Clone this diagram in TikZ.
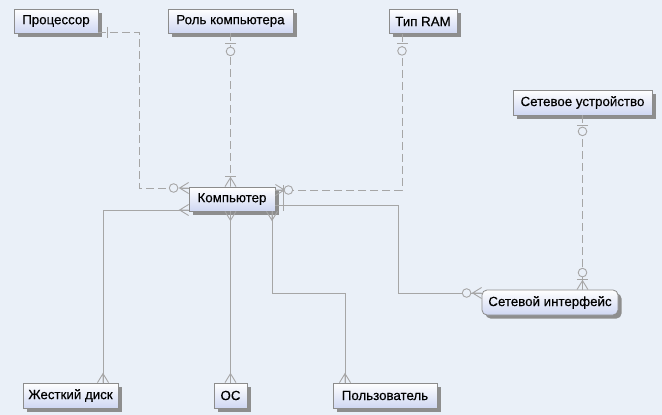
\documentclass[tikz,border=0pt]{standalone}
\usepackage{fontspec}
\setmainfont{Liberation Sans}[FakeBold=0.3]
\newfontfamily\entfont{Liberation Sans}[FakeBold=0.35]
\usetikzlibrary{shadows}
\definecolor{bg}{HTML}{EAF0F8}
\definecolor{boxbot}{HTML}{CFD7F2}
\definecolor{edge}{HTML}{8C8C8C}
\definecolor{ln}{HTML}{A6A6A6}
\definecolor{shd}{HTML}{8E8E8E}
\begin{document}
\begin{tikzpicture}[x=1pt,y=-1pt,
  ent/.style={draw=edge, line width=0.8pt, top color=white, bottom color=boxbot,
    inner sep=0pt, minimum height=24pt, font=\entfont\fontsize{13.3}{15}\selectfont, text=black,
    general shadow={fill=shd, shadow xshift=3.5pt, shadow yshift=-3.5pt}},
  rel/.style={draw=ln, line width=0.9pt},
  idrel/.style={rel, dash pattern=on 8pt off 4pt},
  mk/.style={draw=ln, line width=0.9pt},
  pics/crow/.style={code={\draw[mk] (0,-5.5) -- (9,0) -- (0,5.5) (0,0) -- (9,0);}},
  pics/bar/.style={code={\draw[mk] (#1,-5.5) -- (#1,5.5);}},
  pics/ring/.style={code={\draw[mk,fill=bg] (#1,0) circle[radius=4.3pt];}}
]
\useasboundingbox (0,0) rectangle (662,415);
\fill[bg] (0,0) rectangle (662,415);

% entities
\node[ent, minimum width=84pt]  (proc)   at (56,21)    {Процессор};
\node[ent, minimum width=125pt] (role)   at (230.5,21) {Роль компьютера};
\node[ent, minimum width=68pt]  (ram)    at (423,21.5) {Тип RAM};
\node[ent, minimum width=139pt, minimum height=25pt] (netdev) at (582.5,102.5) {Сетевое устройство};
\node[ent, minimum width=86pt]  (comp)   at (232,199)  {Компьютер};
\node[ent, minimum width=136pt, minimum height=25pt, rounded corners=5pt] (netif) at (550,302.5) {Сетевой интерфейс};
\node[ent, minimum width=95pt, minimum height=25pt]  (hdd)  at (70.5,395.5) {Жесткий диск};
\node[ent, minimum width=33pt, minimum height=25pt]  (os)   at (230.5,395.5) {ОС};
\node[ent, minimum width=104pt, minimum height=25pt] (user) at (385,395.5) {Пользователь};

% connection points
\coordinate (p1) at ([yshift=-11pt]proc.east);
\coordinate (c1) at ([yshift=11pt]comp.west);
\coordinate (r1) at (role.south);
\coordinate (c2) at (role.south |- comp.north);
\coordinate (m1) at ([xshift=-21pt]ram.south);
\coordinate (c3) at ([yshift=9pt]comp.east);
\coordinate (c4) at ([yshift=-11pt]comp.west);
\coordinate (h1) at ([xshift=32.5pt]hdd.north);
\coordinate (c5) at (comp.south -| os.north);
\coordinate (c6) at ([xshift=40pt]comp.south);
\coordinate (u1) at ([xshift=-40pt]user.north);
\coordinate (c7) at ([yshift=-6pt]comp.east);
\coordinate (n1) at ([yshift=9.5pt]netif.west);
\coordinate (d1) at (netdev.south);
\coordinate (n2) at (netdev.south |- netif.north);

% connectors
\draw[idrel] (p1) -- ++(41,0) |- (c1);
\draw[idrel] (r1) -- (c2);
\draw[idrel] (m1) |- (c3);
\draw[rel] (c4) -| (h1);
\draw[rel] (c5) -- (os.north);
\draw[rel] (c6) -- ++(0,82) -| (u1);
\draw[rel] (c7) -- ++(123,0) |- (n1);
\draw[idrel] (d1) -- (n2);

% markers
\pic at (p1) {bar=9};
\pic[rotate=180] at (c1) {crow};
\pic[rotate=180] at (c1) {ring=15};

\pic[rotate=-90] at (r1) {bar=10};
\pic[rotate=-90] at (r1) {ring=18};
\pic[rotate=90] at (c2) {crow};
\pic[rotate=90] at (c2) {bar=10};

\pic[rotate=-90] at (m1) {bar=10};
\pic[rotate=-90] at (m1) {ring=17};
\pic at (c3) {crow};
\pic at (c3) {ring=13};

\pic[rotate=180] at (c4) {crow};
\pic[rotate=90] at (h1) {crow};

\pic[rotate=-90] at (c5) {crow};
\pic[rotate=90] at (os.north) {crow};

\pic[rotate=-90] at (c6) {crow};
\pic[rotate=90] at (u1) {crow};

\draw[mk] ([xshift=8pt,yshift=14pt]comp.east) -- ([xshift=8pt,yshift=-12pt]comp.east);
\pic[rotate=180] at (n1) {crow};
\pic[rotate=180] at (n1) {ring=15};

\pic[rotate=-90] at (d1) {bar=10};
\pic[rotate=-90] at (d1) {ring=16};
\pic[rotate=90] at (n2) {crow};
\pic[rotate=90] at (n2) {bar=10};
\pic[rotate=90] at (n2) {ring=17};
\end{tikzpicture}
\end{document}
